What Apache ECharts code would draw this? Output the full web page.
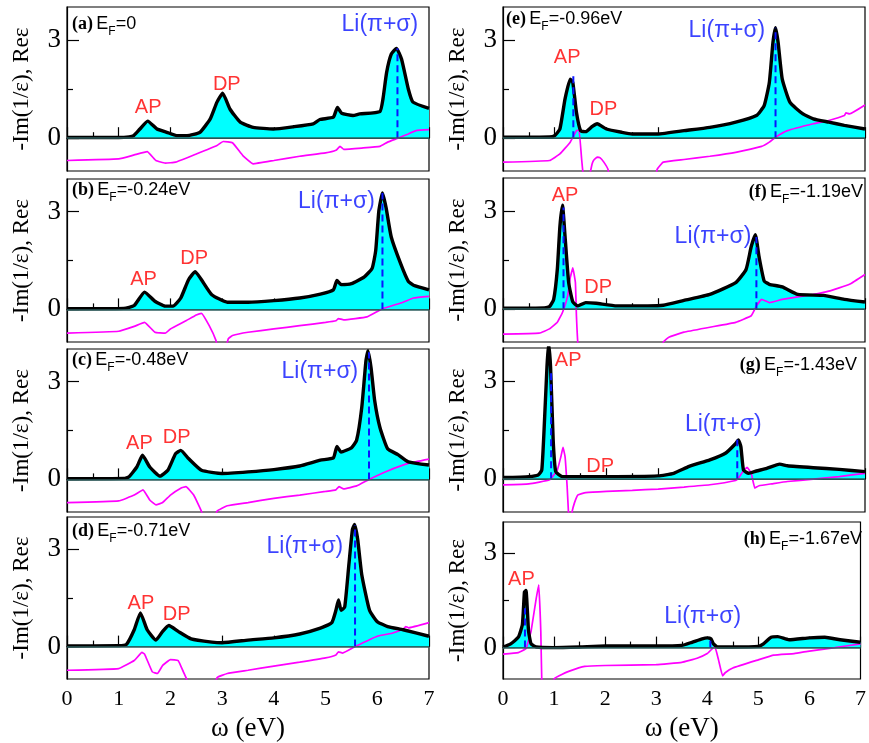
<!DOCTYPE html>
<html><head><meta charset="utf-8">
<script src="https://cdn.jsdelivr.net/npm/echarts@6/dist/echarts.min.js"></script>
<style>html,body{margin:0;padding:0;background:#fff}#c{width:869px;height:743px}</style>
</head><body><div id="c"></div>
<script>
// ---------- data: -Im(1/eps) (loss) and Re eps (re) ----------
const xTicks = [0,1,2,3,4,5,6,7];
const yTickLabels = [0,3];
const yMinorTicks = [1.5];

const lossA = [[0,0.02],[1.0,0.02],[1.2,0.04],[1.29,0.08],[1.41,0.28],[1.56,0.52],[1.74,0.28],[1.93,0.18],[2.12,0.08],[2.32,0.08],[2.57,0.18],[2.77,0.59],[2.9,1.1],[3.01,1.37],[3.15,0.89],[3.35,0.49],[3.6,0.33],[3.99,0.28],[4.38,0.35],[4.76,0.44],[4.89,0.57],[5.15,0.64],[5.23,0.94],[5.31,0.76],[5.53,0.69],[5.66,0.74],[6.05,0.81],[6.11,1.2],[6.18,2.0],[6.27,2.56],[6.37,2.74],[6.47,2.41],[6.6,1.5],[6.69,1.1],[7.0,0.91]];
const reA = [[0,-0.68],[1.0,-0.63],[1.3,-0.51],[1.55,-0.41],[1.72,-0.68],[1.9,-0.76],[2.1,-0.73],[2.5,-0.48],[2.9,-0.22],[3.02,-0.1],[3.2,-0.14],[3.4,-0.53],[3.6,-0.78],[4.0,-0.68],[4.5,-0.55],[5.0,-0.45],[5.2,-0.37],[5.28,-0.25],[5.35,-0.34],[5.7,-0.3],[6.05,-0.25],[6.2,-0.12],[6.4,0.0],[6.6,0.13],[6.75,0.23],[7.0,0.26]];

const lossB = [[0,0.02],[1.1,0.03],[1.3,0.12],[1.5,0.53],[1.7,0.25],[1.9,0.1],[2.05,0.1],[2.2,0.35],[2.35,0.91],[2.48,1.16],[2.6,0.91],[2.8,0.45],[3.1,0.22],[3.5,0.22],[4.0,0.27],[4.5,0.35],[4.9,0.47],[5.15,0.6],[5.22,0.89],[5.3,0.76],[5.5,0.79],[5.75,1.0],[5.9,1.26],[5.97,1.81],[6.03,3.02],[6.1,3.57],[6.17,3.12],[6.27,2.22],[6.45,1.41],[6.6,0.86],[6.7,0.74],[7.0,0.6]];
const reB = [[0,-0.73],[1.0,-0.67],[1.3,-0.52],[1.5,-0.4],[1.7,-0.7],[1.9,-0.73],[2.0,-0.6],[2.3,-0.35],[2.5,-0.17],[2.6,-0.12],[2.75,-0.5],[2.88,-0.95],[2.95,-1.4],[3.05,-1.3],[3.12,-0.9],[3.2,-0.8],[3.5,-0.7],[4.0,-0.6],[4.5,-0.5],[5.0,-0.4],[5.2,-0.35],[5.25,-0.28],[5.35,-0.32],[5.8,-0.23],[6.1,0.02],[6.5,0.22],[6.7,0.35],[7.0,0.4]];

const lossC = [[0,0.02],[1.1,0.03],[1.2,0.08],[1.35,0.38],[1.46,0.74],[1.6,0.38],[1.8,0.1],[1.95,0.28],[2.1,0.79],[2.2,0.89],[2.35,0.64],[2.6,0.28],[3.0,0.18],[3.5,0.23],[4.0,0.3],[4.5,0.41],[4.9,0.59],[5.15,0.66],[5.22,1.01],[5.3,0.84],[5.5,0.97],[5.6,1.2],[5.7,2.21],[5.78,3.63],[5.82,3.95],[5.88,3.42],[5.95,2.41],[6.05,1.6],[6.2,0.94],[6.4,0.76],[6.6,0.54],[7.0,0.44]];
const reC = [[0,-0.71],[1.0,-0.66],[1.3,-0.48],[1.47,-0.32],[1.6,-0.63],[1.72,-0.78],[1.85,-0.71],[2.0,-0.48],[2.2,-0.27],[2.3,-0.22],[2.45,-0.48],[2.6,-0.98],[2.7,-1.5],[2.8,-1.5],[2.9,-0.98],[3.1,-0.81],[3.5,-0.71],[4.0,-0.58],[4.5,-0.48],[5.0,-0.37],[5.2,-0.32],[5.26,-0.22],[5.35,-0.29],[5.6,-0.2],[5.84,0],[6.2,0.26],[6.6,0.49],[7.0,0.62]];

const lossD = [[0,0.02],[1.0,0.03],[1.15,0.07],[1.3,0.52],[1.42,1.04],[1.55,0.52],[1.72,0.2],[1.85,0.47],[1.97,0.65],[2.15,0.47],[2.4,0.24],[2.8,0.14],[3.0,0.12],[3.5,0.2],[4.0,0.27],[4.5,0.39],[4.9,0.57],[5.12,0.74],[5.2,1.12],[5.25,1.44],[5.3,1.12],[5.37,1.22],[5.45,2.52],[5.52,3.62],[5.56,3.77],[5.62,3.32],[5.7,2.22],[5.85,1.12],[6.0,0.77],[6.2,0.62],[6.5,0.52],[7.0,0.32]];
const reD = [[0,-0.73],[1.0,-0.68],[1.3,-0.43],[1.45,-0.18],[1.5,-0.23],[1.65,-0.78],[1.75,-0.83],[1.85,-0.58],[2.0,-0.4],[2.15,-0.43],[2.25,-0.78],[2.32,-1.03],[2.4,-1.5],[2.8,-1.5],[2.9,-0.96],[3.1,-0.83],[3.5,-0.73],[4.0,-0.6],[4.5,-0.48],[5.0,-0.35],[5.2,-0.26],[5.25,-0.16],[5.33,-0.2],[5.57,0],[6.0,0.32],[6.3,0.42],[6.5,0.54],[6.55,0.62],[6.6,0.58],[7.0,0.74]];

const lossE = [[0,0.03],[0.9,0.04],[1.0,0.08],[1.1,0.28],[1.2,1.2],[1.3,1.8],[1.35,1.7],[1.42,0.79],[1.5,0.23],[1.6,0.2],[1.72,0.35],[1.82,0.44],[2.0,0.28],[2.3,0.18],[2.5,0.13],[3.0,0.13],[3.5,0.23],[4.0,0.33],[4.5,0.49],[4.9,0.69],[5.05,0.99],[5.15,1.7],[5.22,2.92],[5.27,3.37],[5.32,2.92],[5.4,1.8],[5.55,1.09],[5.8,0.74],[6.0,0.59],[6.3,0.49],[6.6,0.39],[7.0,0.28]];
const reE = [[0,-0.73],[0.9,-0.68],[1.1,-0.48],[1.3,-0.12],[1.42,0.23],[1.47,0.25],[1.52,-0.63],[1.55,-1.1],[1.62,-1.5],[1.68,-1.1],[1.72,-0.8],[1.75,-0.68],[1.82,-0.58],[1.88,-0.6],[1.95,-0.73],[2.03,-0.95],[2.1,-1.5],[2.9,-1.5],[2.98,-0.95],[3.1,-0.73],[3.5,-0.65],[4.0,-0.55],[4.5,-0.43],[5.0,-0.25],[5.15,-0.12],[5.27,0.03],[5.5,0.23],[6.0,0.44],[6.3,0.54],[6.6,0.69],[6.63,0.77],[6.7,0.74],[7.0,1.01]];

const lossF = [[0,0.03],[0.8,0.04],[0.9,0.08],[0.98,0.3],[1.05,1.21],[1.1,2.52],[1.15,3.17],[1.2,2.22],[1.27,0.81],[1.35,0.22],[1.45,0.1],[1.6,0.2],[1.8,0.18],[2.2,0.1],[2.8,0.1],[3.1,0.12],[3.5,0.27],[4.0,0.45],[4.5,0.81],[4.7,1.21],[4.8,1.91],[4.88,2.27],[4.95,1.61],[5.05,0.86],[5.15,0.76],[5.4,0.68],[5.7,0.45],[6.2,0.42],[6.6,0.3],[7.0,0.22]];
const reF = [[0,-0.76],[0.7,-0.73],[0.9,-0.6],[1.05,-0.4],[1.15,-0.1],[1.25,0.4],[1.3,0.96],[1.35,1.26],[1.4,0.81],[1.42,-0.2],[1.45,-1.1],[1.5,-1.6],[3.0,-1.6],[3.1,-1.0],[3.2,-0.86],[3.5,-0.7],[4.0,-0.55],[4.5,-0.4],[4.8,-0.2],[4.9,0.1],[5.0,0.3],[5.08,0.25],[5.15,0.2],[5.4,0.3],[6.0,0.45],[6.3,0.55],[6.7,0.76],[7.0,1.06]];

const lossG = [[0,0.05],[0.5,0.08],[0.68,0.13],[0.75,0.28],[0.8,1.7],[0.85,3.42],[0.88,4.15],[0.92,3.42],[0.97,1.2],[1.02,0.23],[1.15,0.08],[2.0,0.08],[3.0,0.1],[3.3,0.18],[3.6,0.39],[4.0,0.59],[4.3,0.79],[4.5,1.09],[4.55,1.2],[4.6,0.99],[4.65,0.28],[4.75,0.18],[4.9,0.25],[5.1,0.33],[5.35,0.46],[5.5,0.41],[6.0,0.35],[6.5,0.3],[7.0,0.23]];
const reG = [[0,-0.17],[0.5,-0.14],[0.9,-0.02],[1.05,0.28],[1.12,0.69],[1.16,0.97],[1.2,0.69],[1.24,-0.22],[1.27,-1.1],[1.3,-1.3],[1.33,-1.03],[1.38,-0.73],[1.45,-0.48],[1.6,-0.41],[2.0,-0.37],[2.5,-0.34],[3.0,-0.3],[3.5,-0.24],[4.0,-0.17],[4.5,-0.04],[4.55,0.03],[4.65,0.26],[4.72,0.36],[4.8,0.18],[4.87,-0.27],[4.95,-0.2],[5.2,-0.14],[5.5,-0.07],[6.0,0],[6.5,0.08],[7.0,0.18]];

const lossH = [[0,0.02],[0.15,0.12],[0.3,0.33],[0.38,0.74],[0.42,1.77],[0.45,1.82],[0.5,0.53],[0.55,0.12],[0.65,0.02],[1.0,0.0],[1.5,0.02],[2.0,0.05],[3.0,0.05],[3.5,0.07],[3.7,0.17],[3.9,0.28],[4.0,0.31],[4.07,0.28],[4.12,0.12],[4.2,0.02],[4.5,0.02],[5.0,0.04],[5.1,0.12],[5.25,0.33],[5.38,0.35],[5.6,0.25],[6.0,0.31],[6.3,0.33],[6.6,0.25],[7.0,0.17]];
const reH = [[0,-0.21],[0.3,-0.16],[0.45,-0.03],[0.55,0.53],[0.65,1.56],[0.7,2.0],[0.74,0.53],[0.76,-1.1],[0.8,-1.6],[0.95,-1.6],[1.0,-1.0],[1.1,-0.9],[1.3,-0.75],[1.6,-0.6],[2.0,-0.57],[3.0,-0.54],[3.5,-0.47],[3.8,-0.34],[4.0,-0.19],[4.1,-0.03],[4.15,0.02],[4.22,-0.39],[4.3,-0.9],[4.35,-0.8],[4.5,-0.65],[5.0,-0.39],[5.3,-0.24],[5.7,-0.19],[6.0,-0.11],[6.5,0],[7.0,0.12]];

// peak markers (dashed blue lines): [omega, height]
const peaksA = [[6.39,2.74]];
const peaksB = [[6.10,3.57]];
const peaksC = [[5.84,3.9]];
const peaksD = [[5.57,3.75]];
const peaksE = [[1.36,1.98],[5.27,3.37]];
const peaksF = [[1.17,3.1],[4.9,2.2]];
const peaksG = [[0.93,3.3],[4.53,1.2]];
const peaksH = [[0.43,1.25],[4.06,0.33]];

// annotation anchors (data coordinates): [text, omega, value]
const notesA = [["AP",1.57,0.95],["DP",3.09,1.65],["Li(π+σ)",6.05,3.47]];
const notesB = [["AP",1.48,0.91],["DP",2.46,1.56],["Li(π+σ)",5.21,3.32]];
const notesC = [["AP",1.40,1.09],["DP",2.12,1.30],["Li(π+σ)",4.89,3.32]];
const notesD = [["AP",1.43,1.32],["DP",2.12,1.00],["Li(π+σ)",4.60,3.07]];
const notesE = [["AP",1.24,2.46],["DP",1.94,0.89],["Li(π+σ)",4.33,3.27]];
const notesF = [["AP",1.20,3.47],["DP",1.84,0.66],["Li(π+σ)",4.06,2.21]];
const notesG = [["AP",1.26,3.63],["DP",1.88,0.38],["Li(π+σ)",4.26,1.65]];
const notesH = [["AP",0.36,2.18],["Li(π+σ)",3.91,1.00]];

const panelTags = ["(a)","(b)","(c)","(d)","(e)","(f)","(g)","(h)"];
const fermiLevels = ["=0","=-0.24eV","=-0.48eV","=-0.71eV","=-0.96eV","=-1.19eV","=-1.43eV","=-1.67eV"];

// ---------- layout ----------
const grids = [
  {left:67, top:7,   width:362, height:164},
  {left:67, top:179, width:362, height:163},
  {left:67, top:349, width:362, height:163},
  {left:67, top:517, width:362, height:167},
  {left:503, top:7,   width:362, height:164},
  {left:503, top:178, width:362, height:164},
  {left:503, top:348, width:362, height:164},
  {left:503, top:522, width:362, height:161}
];
// title anchor: [x, y, align]
const titlePos = [[72,24.5,'left'],[72,190,'left'],[72,360,'left'],[72,531,'left'],
                  [506,19.5,'left'],[863,192,'right'],[857,365,'right'],[862,539,'right']];

const losses = [lossA,lossB,lossC,lossD,lossE,lossF,lossG,lossH];
const res = [reA,reB,reC,reD,reE,reF,reG,reH];
const peaks = [peaksA,peaksB,peaksC,peaksD,peaksE,peaksF,peaksG,peaksH];
const notes = [notesA,notesB,notesC,notesD,notesE,notesF,notesG,notesH];

const SERIF = "'Liberation Serif','Times New Roman',serif";
const SANS = "'Liberation Sans',Arial,sans-serif";
const SMOOTH = 0.15;

const xAxes = [], yAxes = [], series = [], graphic = [];
grids.forEach((g,i)=>{
  const bottom = (i===3 || i===7);
  xAxes.push({
    type:'value', gridIndex:i, min:0, max:7, interval:1,
    axisLine:{show:true, lineStyle:{color:'#000', width:1.2}},
    axisTick:{show:true, inside:true, length:11, lineStyle:{color:'#000', width:1.2}},
    minorTick:{show:true, splitNumber:2, length:6, lineStyle:{color:'#000', width:1.2}},
    splitLine:{show:false},
    axisLabel:{show:bottom, fontFamily:SERIF, fontSize:22, color:'#000', margin:9},
    name: bottom ? 'ω (eV)' : '', nameLocation:'middle', nameGap:36,
    nameTextStyle:{fontFamily:SERIF, fontSize:27, color:'#000'}
  });
  yAxes.push({
    type:'value', gridIndex:i, min:-1, max:4,
    axisLine:{show:true, lineStyle:{color:'#000', width:1.2}},
    axisTick:{show:true, inside:true, length:12, customValues:yTickLabels, lineStyle:{color:'#000', width:1.2}},
    axisLabel:{show:true, customValues:yTickLabels, fontFamily:SERIF, fontSize:27, color:'#000', margin:6},
    splitLine:{show:false},
    name:'-Im(1/ε), Reε', nameLocation:'middle', nameGap:34,
    nameTextStyle:{fontFamily:SERIF, fontSize:23, color:'#000'}
  });
  yAxes.push({
    type:'value', gridIndex:i, min:-1, max:4, position:'left', offset:0,
    axisLine:{show:false},
    axisTick:{show:true, inside:true, length:6, customValues:yMinorTicks, lineStyle:{color:'#000', width:1.2}},
    axisLabel:{show:false}, splitLine:{show:false}
  });
  // filled area under the loss function
  series.push({
    type:'line', xAxisIndex:i, yAxisIndex:2*i, data:losses[i], symbol:'none', silent:true,
    smooth:SMOOTH,
    lineStyle:{width:0}, areaStyle:{color:'#00ffff', opacity:1}, z:1,
    markLine:{silent:true, symbol:'none', label:{show:false},
      lineStyle:{color:'#2f5f5f', width:1.6, type:'solid'}, data:[{yAxis:0}]}
  });
  // Re eps
  series.push({
    type:'line', xAxisIndex:i, yAxisIndex:2*i, data:res[i], symbol:'none', silent:true,
    smooth:0.1,
    lineStyle:{color:'#ff00ff', width:1.7}, z:2, clip:true
  });
  // loss line
  series.push({
    type:'line', xAxisIndex:i, yAxisIndex:2*i, data:losses[i], symbol:'none', silent:true,
    smooth:SMOOTH,
    lineStyle:{color:'#000', width:3.4, join:'round'}, z:3, clip:true
  });
  // dashed peak markers
  peaks[i].forEach(p=>{
    series.push({
      type:'line', xAxisIndex:i, yAxisIndex:2*i, data:[[p[0],0],[p[0],p[1]]], symbol:'none', silent:true,
      lineStyle:{color:'#0a14ff', width:2, type:[7,4]}, z:4
    });
  });
  // annotations
  series.push({
    type:'scatter', xAxisIndex:i, yAxisIndex:2*i, symbolSize:0, silent:true, z:5,
    data: notes[i].map(n=>({
      name:n[0], value:[n[1],n[2]],
      label:{show:true, position:'inside', formatter:'{b}',
        color: n[0].startsWith('Li') ? '#0a14ff' : '#ff0000',
        fontFamily:SANS, fontSize: n[0].startsWith('Li') ? 23 : 20}
    }))
  });
  const tp = titlePos[i];
  graphic.push({
    type:'text', x:tp[0], y:tp[1], silent:true, z:10,
    style:{
      text:'{p|'+panelTags[i]+'} {n|E}{s|F}{n|'+fermiLevels[i]+'}',
      align:tp[2], verticalAlign:'middle',
      rich:{
        p:{fontFamily:SERIF, fontWeight:'bold', fontSize:18, fill:'#000'},
        n:{fontFamily:SANS, fontSize:18, fill:'#000'},
        s:{fontFamily:SANS, fontSize:12, fill:'#000', padding:[15,0,0,0]}
      }
    }
  });
});

const chart = echarts.init(document.getElementById('c'), null, {renderer:'canvas'});
chart.setOption({
  animation:false,
  backgroundColor:'#fff',
  grid: grids.map(g=>Object.assign({show:true, borderColor:'#000', borderWidth:1.2, backgroundColor:'transparent', containLabel:false}, g)),
  xAxis:xAxes, yAxis:yAxes, series:series, graphic:graphic
});
</script></body></html>
